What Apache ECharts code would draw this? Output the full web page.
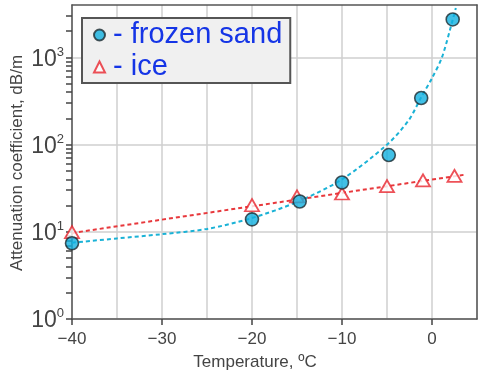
<!DOCTYPE html>
<html>
<head>
<meta charset="utf-8">
<script src="https://cdn.jsdelivr.net/npm/echarts@6/dist/echarts.min.js"></script>
<style>
html,body{margin:0;padding:0;background:#fff;}
#chart{width:484px;height:378px;}
</style>
</head>
<body>
<div id="chart"></div>
<script>
// Measured points
const sandT = [-40, -20, -14.7, -10, -4.8, -1.2, 2.3];
const sandA = [7.4, 13.9, 22.3, 36.8, 76, 343, 2730];
const iceT = [-40, -20, -15, -10, -5, -1, 2.5];
const iceA = [9.9, 20.2, 25.5, 27.5, 33.4, 39, 43.8];
// Fit curves
const sandFitT = [-40, -35, -30, -25, -20, -15, -10, -5, -2.6, -1.2, 0, 1.1, 2.3, 2.65];
const sandFitA = [7.5, 8.4, 9.4, 10.8, 14.4, 22, 40, 100, 190, 350, 580, 1000, 2700, 3700];
const iceFitT = [-40, 3.5];
const iceFitA = [9.7, 45];
// Axis ticks and titles
const xTicks = [-40, -30, -20, -10, 0];
const yMajor = [1, 10, 100, 1000];
const yAllTicks = [1,2,3,4,5,6,7,8,9,10,20,30,40,50,60,70,80,90,100,200,300,400,500,600,700,800,900,1000,2000,3000];
const xTitle = 'Temperature, \u00baC';
const yTitle = 'Attenuation coefficient, dB/m';

const pairs = (xs, ys) => xs.map((x, i) => [x, ys[i]]);
const FONT = 'Liberation Sans, Arial, sans-serif';
const chart = echarts.init(document.getElementById('chart'));

chart.setOption({
  animation: false,
  textStyle: {fontFamily: FONT},
  grid: {left: 72, right: 7, top: 5, bottom: 59, outerBoundsMode: 'none'},
  graphic: [
    {type: 'text', x: 255, y: 362, style: {text: xTitle, fontSize: 17, fontFamily: FONT, fill: '#444', align: 'center', verticalAlign: 'middle'}},
    {type: 'text', x: 17, y: 163, rotation: Math.PI / 2, style: {text: yTitle, fontSize: 17, fontFamily: FONT, fill: '#444', align: 'center', verticalAlign: 'middle'}}
  ],
  legend: {
    data: ['frozen sand', 'ice'],
    orient: 'vertical',
    left: 82, top: 18,
    padding: [2, 8, 1, 11],
    itemGap: 2,
    itemWidth: 11, itemHeight: 11,
    backgroundColor: '#f0f0f0',
    borderColor: '#555', borderWidth: 2,
    formatter: n => '- ' + n,
    textStyle: {fontFamily: FONT, fontSize: 29, color: '#1535e6', lineHeight: 30, padding: [0, 0, 0, 3]}
  },
  xAxis: [{
    type: 'value', min: -40, max: 5, interval: 10, position: 'bottom',
    axisLine: {show: true, onZero: false, lineStyle: {color: '#555', width: 1.5}},
    axisTick: {show: true, length: 6, customValues: xTicks, lineStyle: {color: '#444', width: 1.5}},
    axisLabel: {customValues: xTicks, fontSize: 17, color: '#444', margin: 12,
      formatter: v => v < 0 ? '\u2212' + Math.abs(v) : String(v)},
    splitLine: {show: true, lineStyle: {color: 'rgba(0,0,0,0)'}}
  }, {
    type: 'value', min: -40, max: 5, interval: 5, position: 'top',
    axisLine: {show: true, onZero: false, lineStyle: {color: '#555', width: 1.5}},
    axisTick: {show: false}, axisLabel: {show: false},
    splitLine: {show: true, lineStyle: {color: '#cfcfcf', width: 1.5}}
  }],
  yAxis: [{
    type: 'log', min: 1, max: 4000, position: 'left',
    axisLine: {show: true, onZero: false, lineStyle: {color: '#555', width: 1.5}},
    axisTick: {show: true, length: 6, customValues: yAllTicks, lineStyle: {color: '#444', width: 1.5}},
    axisLabel: {customValues: yMajor, margin: 8,
      formatter: v => '{b|10}{s|' + Math.round(Math.log10(v)) + '}',
      rich: {
        b: {fontSize: 23, color: '#444', fontFamily: FONT, lineHeight: 24, padding: [4, 0, 0, 0]},
        s: {fontSize: 13, color: '#444', fontFamily: FONT, verticalAlign: 'top', lineHeight: 24, padding: [0, 0, 8, 0]}
      }},
    splitLine: {show: true, lineStyle: {color: 'rgba(0,0,0,0)'}}
  }, {
    type: 'log', min: 1, max: 4000, position: 'right',
    axisLine: {show: true, onZero: false, lineStyle: {color: '#555', width: 1.5}},
    axisTick: {show: false, customValues: yMajor},
    axisLabel: {show: false},
    splitLine: {show: true, lineStyle: {color: '#cfcfcf', width: 1.5}}
  }],
  series: [
    {name: 'sand fit', type: 'line', data: pairs(sandFitT, sandFitA), smooth: 0.3, showSymbol: false, z: 2,
      lineStyle: {color: '#1ab2d6', width: 2, type: [4, 3]}},
    {name: 'ice fit', type: 'line', data: pairs(iceFitT, iceFitA), showSymbol: false, z: 2,
      lineStyle: {color: '#e8383c', width: 2, type: [4, 3]}},
    {name: 'ice', type: 'scatter', data: pairs(iceT, iceA), symbol: 'triangle', symbolSize: [14, 12], z: 3,
      itemStyle: {color: '#ffffff', borderColor: '#e8262e', borderWidth: 1.8}},
    {name: 'frozen sand', type: 'scatter', data: pairs(sandT, sandA), symbol: 'circle', symbolSize: 13, z: 4,
      itemStyle: {color: '#12b0e0', borderColor: '#1e2a30', borderWidth: 1.6}}
  ]
});
</script>
</body>
</html>
